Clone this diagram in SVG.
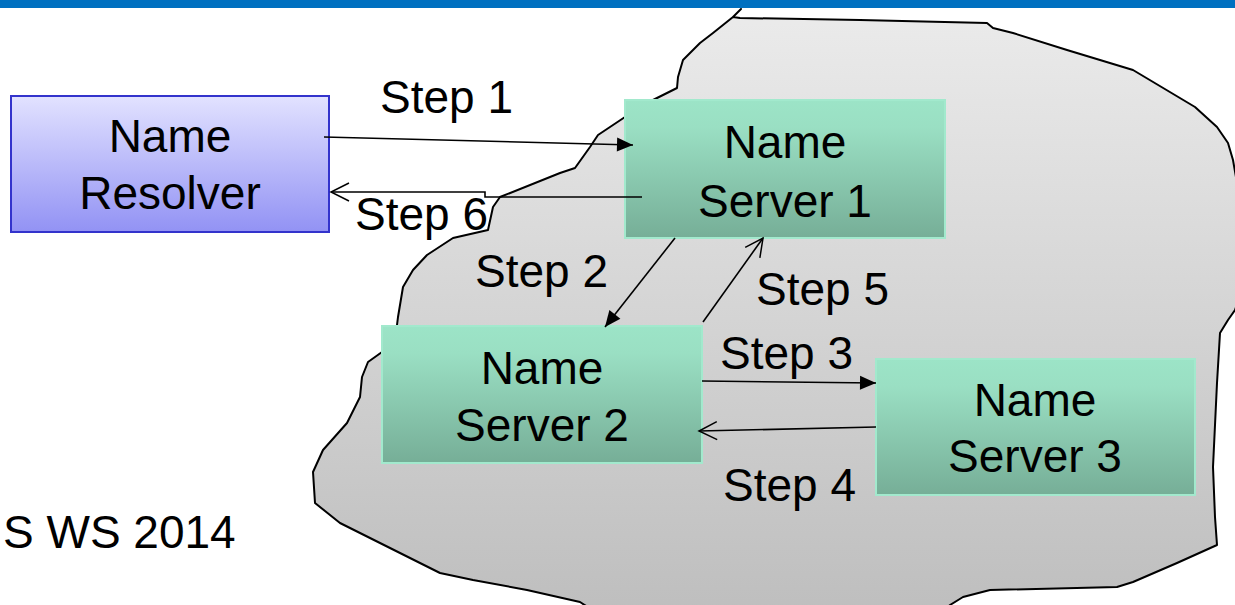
<svg xmlns="http://www.w3.org/2000/svg" width="1235" height="605" viewBox="0 0 1235 605">
<defs>
<linearGradient id="gCloud" x1="0" y1="0" x2="0" y2="1"><stop offset="0" stop-color="#EBEBEB"/><stop offset="1" stop-color="#BEBEBE"/></linearGradient>
<linearGradient id="gRes" x1="0" y1="0" x2="0" y2="1"><stop offset="0" stop-color="#E2E2FF"/><stop offset="1" stop-color="#9292F4"/></linearGradient>
<linearGradient id="gSrv" x1="0" y1="0" x2="0" y2="1"><stop offset="0" stop-color="#9CE4C7"/><stop offset="0.2" stop-color="#9ADFC3"/><stop offset="1" stop-color="#76AE97"/></linearGradient>
<marker id="aFill" markerUnits="userSpaceOnUse" markerWidth="18" markerHeight="16" refX="16" refY="7" orient="auto" overflow="visible"><path d="M0,0 L16,7 L0,14 z" fill="#000"/></marker>
<marker id="aOpen" markerUnits="userSpaceOnUse" markerWidth="20" markerHeight="20" refX="18" refY="9" orient="auto" overflow="visible"><path d="M0,0 L18,9 L0,18" fill="none" stroke="#000" stroke-width="1.5"/></marker>
</defs>
<style>
.t{font-family:"Liberation Sans",Arial,sans-serif;font-size:46px;fill:#000}
.c{text-anchor:middle}
.srv{fill:url(#gSrv);stroke:#A2E9CD;stroke-width:2}
.ln{stroke:#000;stroke-width:1.6;fill:none}
</style>
<g id="cloud">
<path d="M733,17 L741,9 L733,17 L740,18 L860,20 L987,23 L993,28 L1013,33 L1067,50 L1133,70 L1195,107 L1217,127 L1228,143 L1233,160 L1240,200 L1242,290 L1235,310 L1228,320 L1220,333 L1217,383 L1213,467 L1215,517 L1217,545 L1177,563 L1133,582 L1117,587 L990,590 L963,597 L950,605 L940,615 L600,615 L580,602 L527,590 L473,580 L440,573 L380,543 L340,523 L315,503 L313,472 L323,450 L347,423 L360,397 L362,377 L368,362 L382,352 L397,325 L398,317 L403,287 L413,270 L427,255 L453,238 L488,230 L493,207 L500,197 L560,173 L575,168 L590,147 L598,135 L625,117 L653,100 L677,88 L678,77 L683,60 L700,43 L713,33 Z" fill="url(#gCloud)" stroke="#000" stroke-width="2" stroke-linejoin="round"/>
</g>
<rect x="0" y="0" width="1235" height="8" fill="#0070C0"/>
<g id="resolver">
<rect x="11" y="96" width="318" height="136" fill="url(#gRes)" stroke="#3333CC" stroke-width="2"/>
<text class="t c" x="170" y="152">Name</text>
<text class="t c" x="170" y="209">Resolver</text>
</g>
<g id="server1">
<rect class="srv" x="625" y="100" width="320" height="138"/>
<text class="t c" x="785" y="158">Name</text>
<text class="t c" x="785" y="217">Server 1</text>
</g>
<g id="server2">
<rect class="srv" x="382" y="326" width="320" height="137"/>
<text class="t c" x="542" y="384">Name</text>
<text class="t c" x="542" y="441">Server 2</text>
</g>
<g id="server3">
<rect class="srv" x="876" y="359" width="319" height="136"/>
<text class="t c" x="1035" y="416">Name</text>
<text class="t c" x="1035" y="472">Server 3</text>
</g>
<g id="connectors">
<line class="ln" x1="324" y1="137" x2="633" y2="145" marker-end="url(#aFill)"/>
<polyline class="ln" points="642,197 485,197 485,192 331,192" marker-end="url(#aOpen)"/>
<line class="ln" x1="675" y1="238" x2="605" y2="327" marker-end="url(#aFill)"/>
<line class="ln" x1="703" y1="322" x2="763" y2="238" marker-end="url(#aOpen)"/>
<line class="ln" x1="702" y1="381" x2="876" y2="383" marker-end="url(#aFill)"/>
<line class="ln" x1="876" y1="427" x2="699" y2="431" marker-end="url(#aOpen)"/>
</g>
<g id="labels">
<text class="t" x="380" y="113">Step 1</text>
<text class="t" x="355" y="230">Step 6</text>
<text class="t" x="475" y="287">Step 2</text>
<text class="t" x="756" y="305">Step 5</text>
<text class="t" x="720" y="369">Step 3</text>
<text class="t" x="723" y="501">Step 4</text>
<text class="t" x="3" y="548">S WS 2014</text>
</g>
</svg>
